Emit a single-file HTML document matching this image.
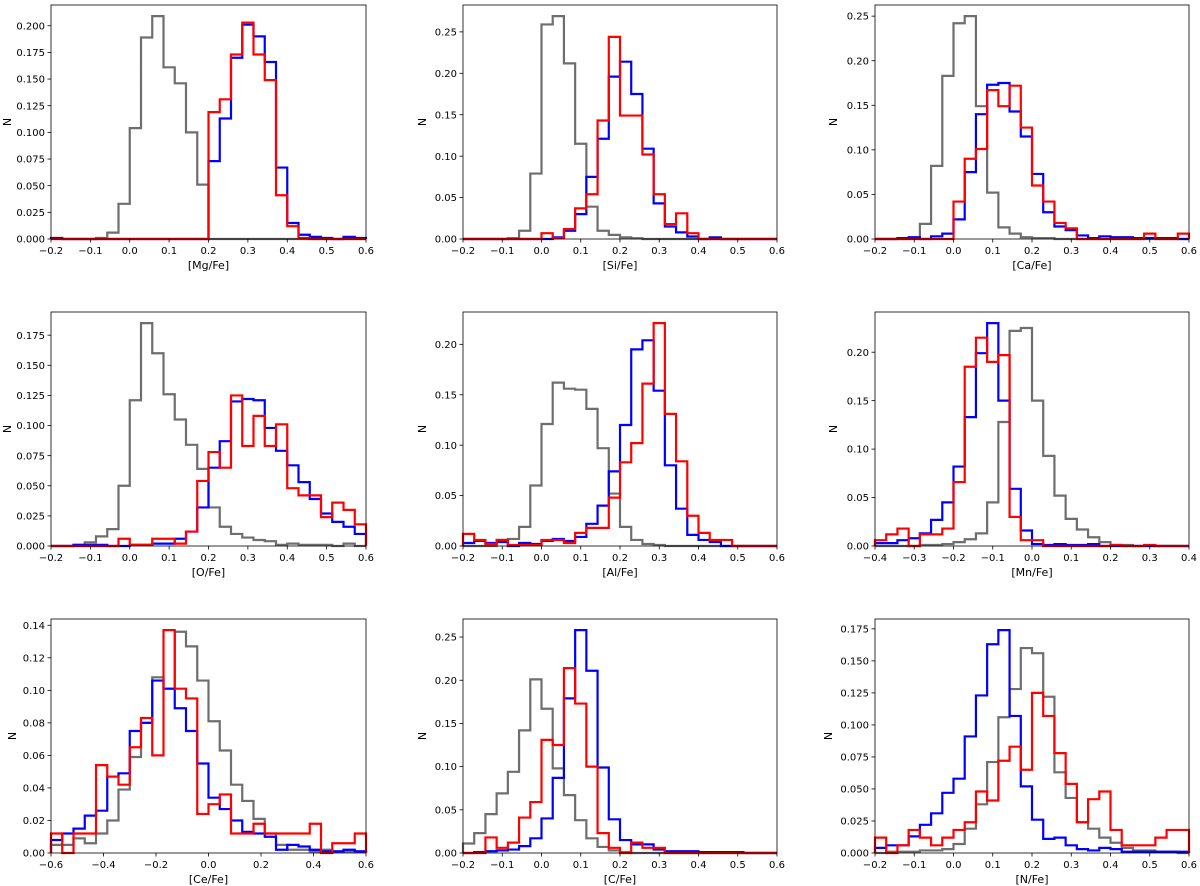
<!DOCTYPE html>
<html><head><meta charset="utf-8">
<style>
html,body{margin:0;padding:0;background:#fff;}
svg{display:block;font-family:"DejaVu Sans","Liberation Sans",sans-serif;}
</style></head>
<body>
<svg id="fig" width="1200" height="886" viewBox="0 0 1200 886" xmlns="http://www.w3.org/2000/svg"></svg>
<script>
// ---- data: per panel, 28 bins each ----
const mgGray=[0,0,0,0,0.001,0.006,0.033,0.104,0.189,0.209,0.161,0.146,0.100,0.051,0,0,0,0,0,0,0,0,0,0,0,0,0,0];
const mgBlue=[0.001,0,0,0,0,0,0,0,0,0,0,0,0,0,0.073,0.113,0.170,0.201,0.190,0.166,0.067,0.015,0.004,0.002,0.001,0,0.002,0.001];
const mgRed=[0,0,0,0,0,0,0,0,0,0,0,0,0,0,0.119,0.131,0.173,0.203,0.173,0.149,0.041,0.012,0.001,0,0,0,0,0];
const siGray=[0,0,0,0,0.001,0.010,0.079,0.259,0.269,0.212,0.115,0.039,0.010,0.005,0.002,0.001,0,0,0,0,0,0,0,0,0,0,0,0];
const siBlue=[0,0,0,0,0,0,0,0,0.002,0.010,0.030,0.075,0.121,0.196,0.214,0.175,0.109,0.043,0.015,0.008,0.003,0,0.002,0,0,0,0,0];
const siRed=[0,0,0,0,0,0,0,0.007,0.001,0.012,0.037,0.054,0.143,0.244,0.149,0.149,0.102,0.054,0.018,0.031,0.007,0,0,0,0,0,0,0];
const caGray=[0,0,0,0.001,0.017,0.082,0.183,0.242,0.250,0.149,0.052,0.013,0.006,0.002,0.001,0.001,0,0,0,0,0,0,0,0,0,0,0,0];
const caBlue=[0,0,0.001,0.002,0,0.003,0.006,0.022,0.075,0.140,0.173,0.175,0.143,0.115,0.073,0.030,0.014,0.010,0.004,0.001,0.003,0.002,0.002,0.001,0.001,0.001,0.001,0];
const caRed=[0,0,0,0,0,0,0,0.042,0.090,0.101,0.167,0.149,0.172,0.125,0.060,0.042,0.018,0.012,0,0,0,0,0,0,0.006,0,0,0.006];
const oGray=[0,0,0.001,0.003,0.008,0.014,0.050,0.121,0.185,0.160,0.126,0.105,0.084,0.064,0.032,0.016,0.010,0.007,0.005,0.004,0.001,0.002,0.001,0.001,0.001,0,0.002,0];
const oBlue=[0,0,0.001,0.001,0.001,0,0,0.001,0.001,0.002,0.002,0.006,0.012,0.032,0.065,0.087,0.120,0.122,0.121,0.098,0.079,0.067,0.053,0.039,0.027,0.020,0.016,0.010];
const oRed=[0,0,0,0,0,0,0.006,0.001,0.001,0.006,0.006,0.002,0.012,0.054,0.078,0.065,0.125,0.083,0.108,0.083,0.101,0.048,0.042,0.042,0.024,0.036,0.030,0.018];
const alGray=[0,0,0,0.006,0.007,0.019,0.060,0.121,0.162,0.156,0.155,0.136,0.097,0.052,0.019,0.006,0.002,0.001,0,0,0,0,0,0,0,0,0,0];
const alBlue=[0.003,0.005,0.003,0.004,0,0.003,0.002,0.005,0.007,0.005,0.009,0.022,0.040,0.074,0.120,0.195,0.204,0.154,0.080,0.037,0.011,0.006,0.004,0,0,0,0,0];
const alRed=[0.012,0.006,0.002,0.006,0.001,0.001,0.001,0.006,0.006,0.003,0.013,0.018,0.018,0.048,0.083,0.102,0.161,0.221,0.131,0.084,0.030,0.013,0.006,0.006,0,0,0,0];
const mnGray=[0,0,0,0,0.001,0.001,0.002,0.004,0.007,0.013,0.045,0.128,0.222,0.225,0.150,0.093,0.052,0.028,0.017,0.009,0.004,0.001,0.001,0,0,0,0,0];
const mnBlue=[0.003,0.003,0.006,0.008,0.013,0.027,0.045,0.082,0.133,0.199,0.230,0.150,0.059,0.016,0.002,0.001,0.002,0.001,0.001,0.002,0,0,0,0,0,0,0,0];
const mnRed=[0.006,0.012,0.018,0,0.012,0.012,0.018,0.066,0.185,0.215,0.190,0.197,0.030,0.006,0.006,0,0,0,0,0,0,0.001,0,0,0.001,0,0,0];
const ceGray=[0.005,0.005,0.009,0.006,0.012,0.020,0.039,0.059,0.080,0.108,0.101,0.136,0.127,0.106,0.081,0.063,0.042,0.032,0.021,0.012,0.005,0.002,0.002,0.001,0.002,0.001,0.001,0.001];
const ceBlue=[0.008,0.012,0.015,0.023,0.026,0.047,0.049,0.075,0.080,0.106,0.101,0.089,0.075,0.055,0.034,0.027,0.020,0.013,0.012,0.010,0.002,0.005,0.004,0.002,0.001,0.001,0.002,0.001];
const ceRed=[0.012,0,0.012,0.012,0.054,0.047,0.042,0.065,0.083,0.060,0.137,0.101,0.095,0.024,0.030,0.036,0.012,0.012,0.018,0.012,0.012,0.012,0.012,0.018,0,0.006,0.006,0.012];
const cGray=[0.011,0.023,0.045,0.069,0.094,0.142,0.201,0.167,0.098,0.067,0.038,0.017,0.007,0.003,0.001,0,0,0,0,0,0,0,0,0,0,0,0,0];
const cBlue=[0,0.001,0.002,0.003,0.004,0.008,0.017,0.040,0.087,0.179,0.258,0.211,0.099,0.039,0.015,0.010,0.010,0.004,0.002,0.002,0.002,0.001,0.001,0.001,0.001,0,0,0];
const cRed=[0,0,0.018,0.006,0.012,0.041,0.059,0.131,0.125,0.214,0.173,0.100,0.023,0.006,0,0.012,0.006,0.006,0,0,0,0,0,0,0,0,0,0];
const nGray=[0,0.001,0.001,0.001,0.002,0.002,0.003,0.007,0.019,0.038,0.071,0.106,0.128,0.160,0.156,0.122,0.063,0.043,0.024,0.019,0.012,0.008,0.004,0.002,0.002,0.001,0.001,0];
const nBlue=[0.004,0.006,0.006,0.013,0.022,0.031,0.047,0.058,0.091,0.123,0.163,0.174,0.107,0.052,0.026,0.011,0.012,0.006,0.003,0.002,0.004,0.003,0.001,0.001,0.001,0.001,0.001,0.001];
const nRed=[0.012,0,0.006,0.018,0.012,0.006,0.012,0.018,0.024,0.048,0.041,0.072,0.083,0.065,0.125,0.107,0.078,0.054,0.024,0.042,0.048,0.018,0.006,0.006,0.006,0.012,0.018,0.018];

const xLabels=["[Mg/Fe]","[Si/Fe]","[Ca/Fe]","[O/Fe]","[Al/Fe]","[Mn/Fe]","[Ce/Fe]","[C/Fe]","[N/Fe]"];
const xRanges=[[-0.2,0.6],[-0.2,0.6],[-0.2,0.6],[-0.2,0.6],[-0.2,0.6],[-0.4,0.4],[-0.6,0.6],[-0.2,0.6],[-0.2,0.6]];
const xTickSteps=[0.1,0.1,0.1,0.1,0.1,0.1,0.2,0.1,0.1];
const yTickSteps=[0.025,0.05,0.05,0.025,0.05,0.05,0.02,0.05,0.025];
const yDecimals=[3,2,2,3,2,2,2,2,3];
const grays=[mgGray,siGray,caGray,oGray,alGray,mnGray,ceGray,cGray,nGray];
const blues=[mgBlue,siBlue,caBlue,oBlue,alBlue,mnBlue,ceBlue,cBlue,nBlue];
const reds=[mgRed,siRed,caRed,oRed,alRed,mnRed,ceRed,cRed,nRed];

const NS="http://www.w3.org/2000/svg";
const svg=document.getElementById('fig');
const colL=[51,463,875], colR=[366,777,1189];
const rowT=[5,312,619], rowB=[239,546,853];
const nX=[7,422,833,7,422,833,12,422,828];
function mk(tag,attrs,parent){const e=document.createElementNS(NS,tag);for(const k in attrs)e.setAttribute(k,attrs[k]);(parent||svg).appendChild(e);return e;}

for(let p=0;p<9;p++){
  const L=colL[p%3],R=colR[p%3],T=rowT[Math.floor(p/3)],B=rowB[Math.floor(p/3)];
  const g=mk('g',{});
  
  
  const [x0,x1]=xRanges[p];
  const all=grays[p].concat(blues[p],reds[p]);
  const ymax=Math.max(...all)*1.05;
  const sx=v=>L+(v-x0)/(x1-x0)*(R-L);
  const sy=v=>B-v/ymax*(B-T);
  const series=[[grays[p],'#6e6e6e','gray'],[blues[p],'#0000ff','blue'],[reds[p],'#ff0000','red']];
  for(const [vals,col,nm] of series){
    const n=vals.length,w=(x1-x0)/n;
    let d='M'+sx(x0).toFixed(2)+','+sy(0).toFixed(2);
    for(let i=0;i<n;i++){
      d+=' L'+sx(x0+i*w).toFixed(2)+','+sy(vals[i]).toFixed(2)+' L'+sx(x0+(i+1)*w).toFixed(2)+','+sy(vals[i]).toFixed(2);
    }
    d+=' L'+sx(x1).toFixed(2)+','+sy(0).toFixed(2);
    const path=mk('path',{d:d,fill:'none',stroke:col,'stroke-width':2.2,'stroke-linejoin':'miter'},g);
    
    
  }
  const fr=mk('rect',{x:L,y:T,width:R-L,height:B-T,fill:'none',stroke:'#000','stroke-width':0.8},g);
  
  
  // x ticks
  const xs=xTickSteps[p];
  for(let k=0;;k++){
    const v=x0+k*xs; if(v>x1+1e-9)break;
    const X=sx(v);
    mk('line',{x1:X,y1:B,x2:X,y2:B+3.5,stroke:'#000','stroke-width':0.8},g);
    const t=mk('text',{x:X,y:B+15,'font-size':10,'text-anchor':'middle',fill:'#000'},g);
    t.textContent=(Math.abs(v)<1e-9?0:v).toFixed(1).replace('-','\u2212');
    
    
  }
  // y ticks
  const ys=yTickSteps[p];
  for(let k=0;;k++){
    const v=k*ys; if(v>ymax+1e-9)break;
    const Y=sy(v);
    mk('line',{x1:L-3.5,y1:Y,x2:L,y2:Y,stroke:'#000','stroke-width':0.8},g);
    const t=mk('text',{x:L-6,y:Y+3.6,'font-size':10,'text-anchor':'end',fill:'#000'},g);
    t.textContent=v.toFixed(yDecimals[p]);
    
    
  }
  const xl=mk('text',{x:(L+R)/2,y:B+30,'font-size':11,'text-anchor':'middle',fill:'#000'},g);
  xl.textContent=xLabels[p];
  
  
  const yc=(T+B)/2, yx=nX[p]+4;
  const yl=mk('text',{x:yx,y:yc,'font-size':11,'text-anchor':'middle',fill:'#000',transform:'rotate(-90 '+yx+' '+yc+')'},g);
  yl.textContent='N';
  
  
}
</script>
</body></html>
